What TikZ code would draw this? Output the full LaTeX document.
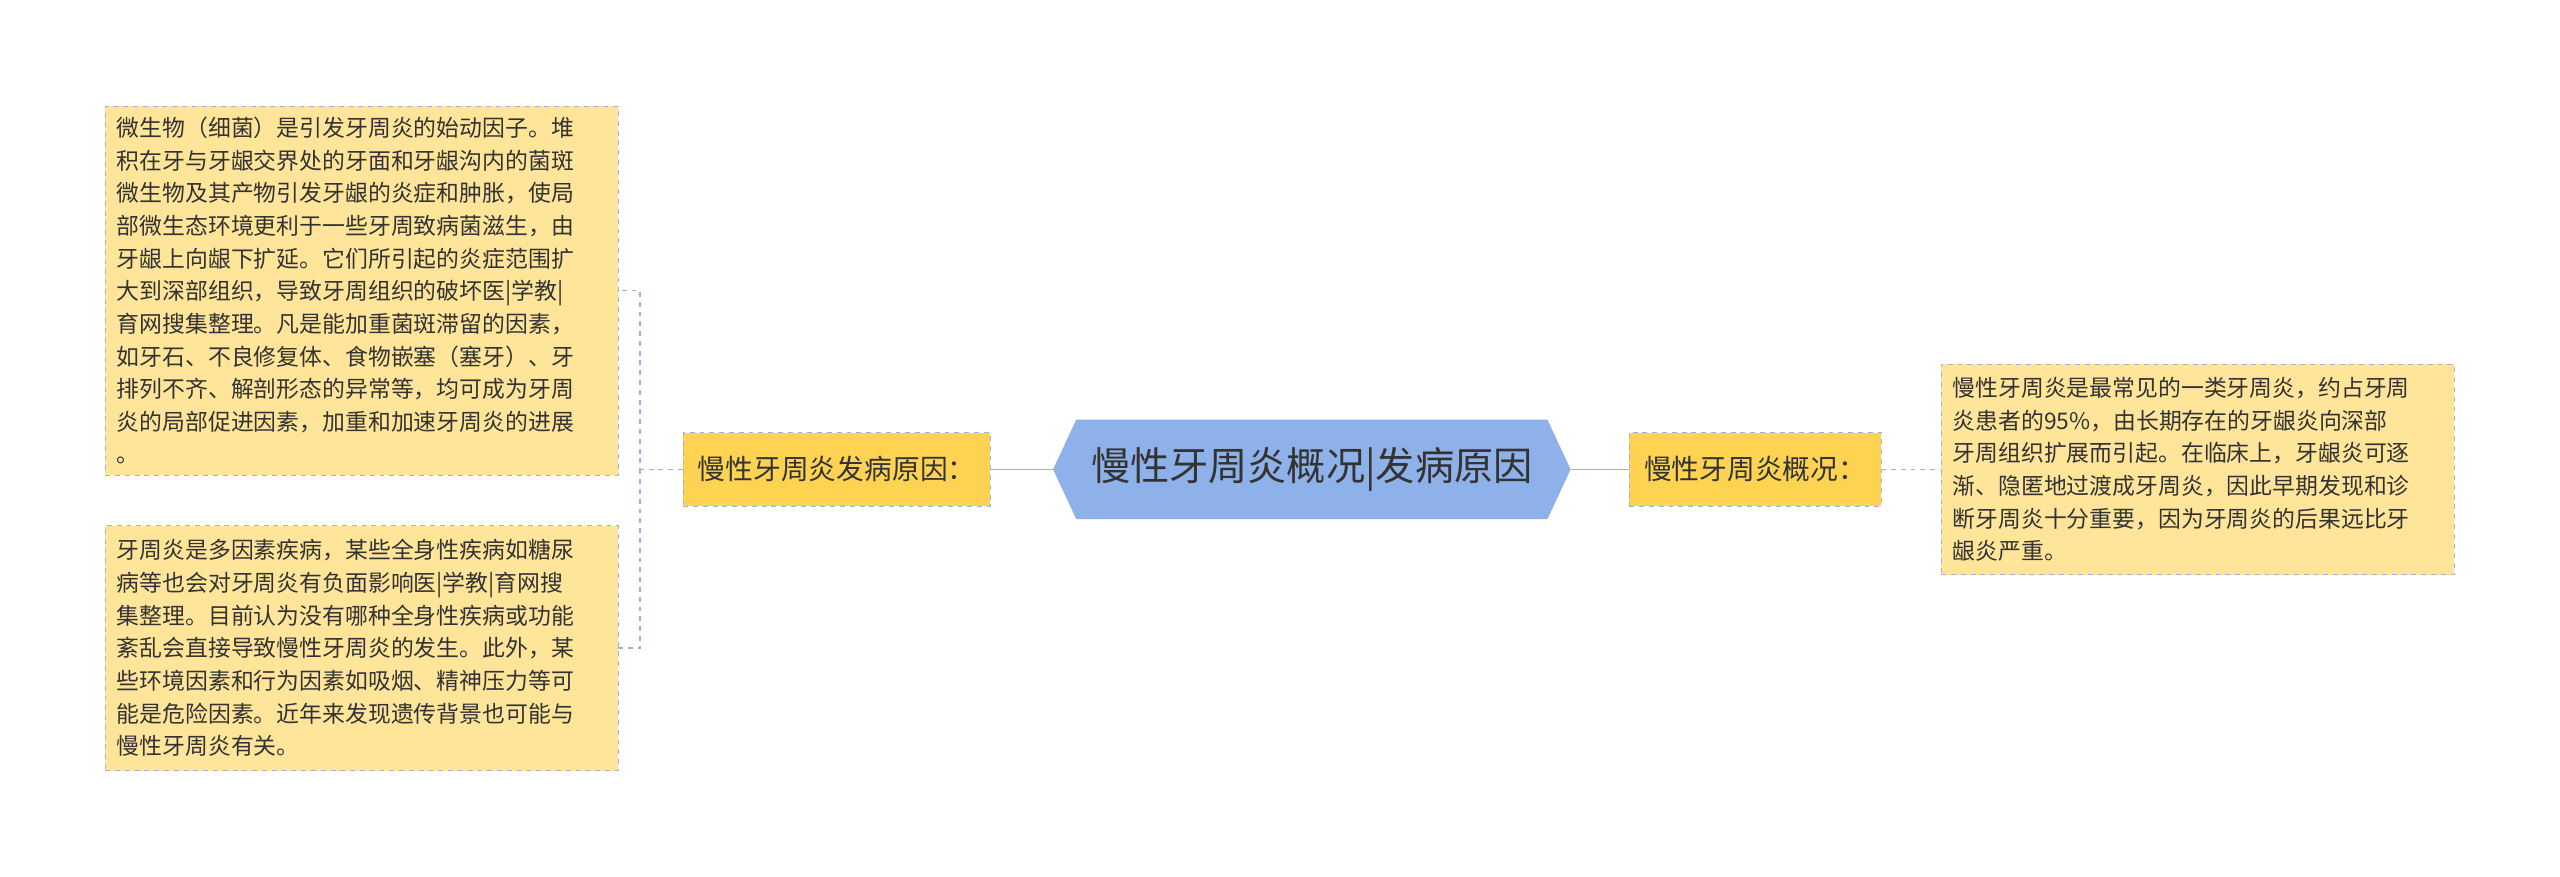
\documentclass[tikz,border=0pt]{standalone}
\usepackage{fontspec}
\setmainfont{Noto Sans CJK SC}
\usetikzlibrary{shapes.symbols}
\definecolor{lineblue}{HTML}{9DB3DE}
\definecolor{boxfill}{HTML}{FFE59A}
\definecolor{midfill}{HTML}{FED352}
\definecolor{cfill}{HTML}{8FB1EA}
\definecolor{txt}{HTML}{333333}
\tikzset{
 textbox/.style={draw=lineblue,dashed,fill=boxfill,text=txt,align=left,text width=300pt,inner xsep=7pt,inner ysep=6pt,font=\fontsize{14pt}{20pt}\selectfont},
 midbox/.style={draw=lineblue,dashed,fill=midfill,text=txt,minimum height=45pt,inner xsep=9pt,font=\fontsize{17pt}{20pt}\selectfont},
 conn/.style={draw=lineblue,line width=1pt},
}
\begin{document}
\begin{tikzpicture}[x=1pt,y=-1pt]
\useasboundingbox[fill=white] (0,0) rectangle (1568,537);
\node[signal,signal to=east and west,signal pointer angle=130,fill=cfill,text=txt,minimum width=317pt,minimum height=61pt,inner sep=0pt,font=\fontsize{24pt}{28pt}\selectfont] (c) at (803.5,287.5) {慢性牙周炎概况|发病原因};
\node[midbox] (l) at (512.5,287.5) {慢性牙周炎发病原因：};
\node[midbox] (r) at (1075,287.5) {慢性牙周炎概况：};
\node[textbox,minimum height=226pt] (b1) at (221.5,178) {微生物（细菌）是引发牙周炎的始动因子。堆\\积在牙与牙龈交界处的牙面和牙龈沟内的菌斑\\微生物及其产物引发牙龈的炎症和肿胀，使局\\部微生态环境更利于一些牙周致病菌滋生，由\\牙龈上向龈下扩延。它们所引起的炎症范围扩\\大到深部组织，导致牙周组织的破坏医|学教|\\育网搜集整理。凡是能加重菌斑滞留的因素，\\如牙石、不良修复体、食物嵌塞（塞牙）、牙\\排列不齐、解剖形态的异常等，均可成为牙周\\炎的局部促进因素，加重和加速牙周炎的进展\\。};
\node[textbox,minimum height=150pt] (b2) at (221.5,397) {牙周炎是多因素疾病，某些全身性疾病如糖尿\\病等也会对牙周炎有负面影响医|学教|育网搜\\集整理。目前认为没有哪种全身性疾病或功能\\紊乱会直接导致慢性牙周炎的发生。此外，某\\些环境因素和行为因素如吸烟、精神压力等可\\能是危险因素。近年来发现遗传背景也可能与\\慢性牙周炎有关。};
\node[textbox,minimum height=129pt] (b3) at (1346,287.5) {慢性牙周炎是最常见的一类牙周炎，约占牙周\\炎患者的95\%，由长期存在的牙龈炎向深部\\牙周组织扩展而引起。在临床上，牙龈炎可逐\\渐、隐匿地过渡成牙周炎，因此早期发现和诊\\断牙周炎十分重要，因为牙周炎的后果远比牙\\龈炎严重。};
\coordinate (j) at (392,287.5);
\draw[conn] (c.west) -- (l.east);
\draw[conn] (c.east) -- (r.west);
\draw[conn,dashed] (r.east) -- (b3.west);
\draw[conn,dashed] (l.west) -- (j) |- (b1.east);
\draw[conn,dashed] (j) |- (b2.east);
\end{tikzpicture}
\end{document}
